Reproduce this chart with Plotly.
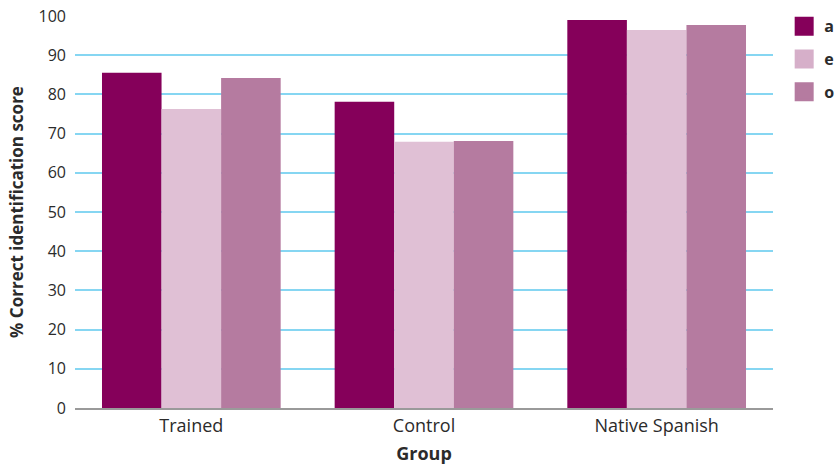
import plotly.graph_objects as go

# Identification scores (%) per vowel for each listener group
groups = ["Trained", "Control", "Native Spanish"]
vowels = ["a", "e", "o"]
score_a = [85.5, 78.1, 99.0]
score_e = [76.3, 67.9, 96.4]
score_o = [84.2, 68.1, 97.7]
y_ticks = [0, 10, 20, 30, 40, 50, 60, 70, 80, 90, 100]

colors = {"a": "#85005A", "e": "#E0C0D5", "o": "#B57BA0"}
legend_colors = {"a": "#85005A", "e": "#D6AFC9", "o": "#B57BA0"}
series = {"a": score_a, "e": score_e, "o": score_o}

fig = go.Figure()
for v in vowels:
    fig.add_trace(go.Bar(
        x=groups, y=series[v], name=v,
        marker=dict(color=colors[v], line=dict(width=0)),
        showlegend=False,
    ))
    # legend proxy with a larger square swatch
    fig.add_trace(go.Scatter(
        x=[None], y=[None], mode="markers", name=v,
        legendgroup=v,
        marker=dict(symbol="square", size=16, color=legend_colors[v],
                    line=dict(color=legend_colors[v], width=3)),
    ))

font_family = "Open Sans, Noto Sans, sans-serif"
text_color = "#2b2b2b"

fig.update_layout(
    width=836, height=466,
    margin=dict(l=75, r=63, t=16, b=58, autoexpand=False),
    paper_bgcolor="white", plot_bgcolor="white",
    barmode="group", bargap=0.232, bargroupgap=0,
    font=dict(family=font_family, size=16, color=text_color),
    legend=dict(
        x=1.016, y=1.017, xanchor="left", yanchor="top",
        font=dict(size=16, color=text_color, family=font_family, weight="bold"),
        tracegroupgap=9,
        bgcolor="rgba(0,0,0,0)",
    ),
    xaxis=dict(
        showgrid=False, ticks="", showline=True,
        linecolor="#9a9a9a", linewidth=2,
        tickfont=dict(size=18, color=text_color),
        title=dict(text="Group", standoff=12,
                   font=dict(size=18, color=text_color, weight="bold")),
    ),
    yaxis=dict(
        range=[0, 100], tickvals=y_ticks,
        showgrid=True, gridcolor="#86D6F2", gridwidth=2,
        zeroline=False, showline=False, ticks="",
        ticklabelstandoff=8,
        tickfont=dict(size=16, color=text_color),
        title=dict(text="% Correct identification score", standoff=10,
                   font=dict(size=17, color=text_color, weight="bold")),
    ),
)

fig.write_html("out.html")
